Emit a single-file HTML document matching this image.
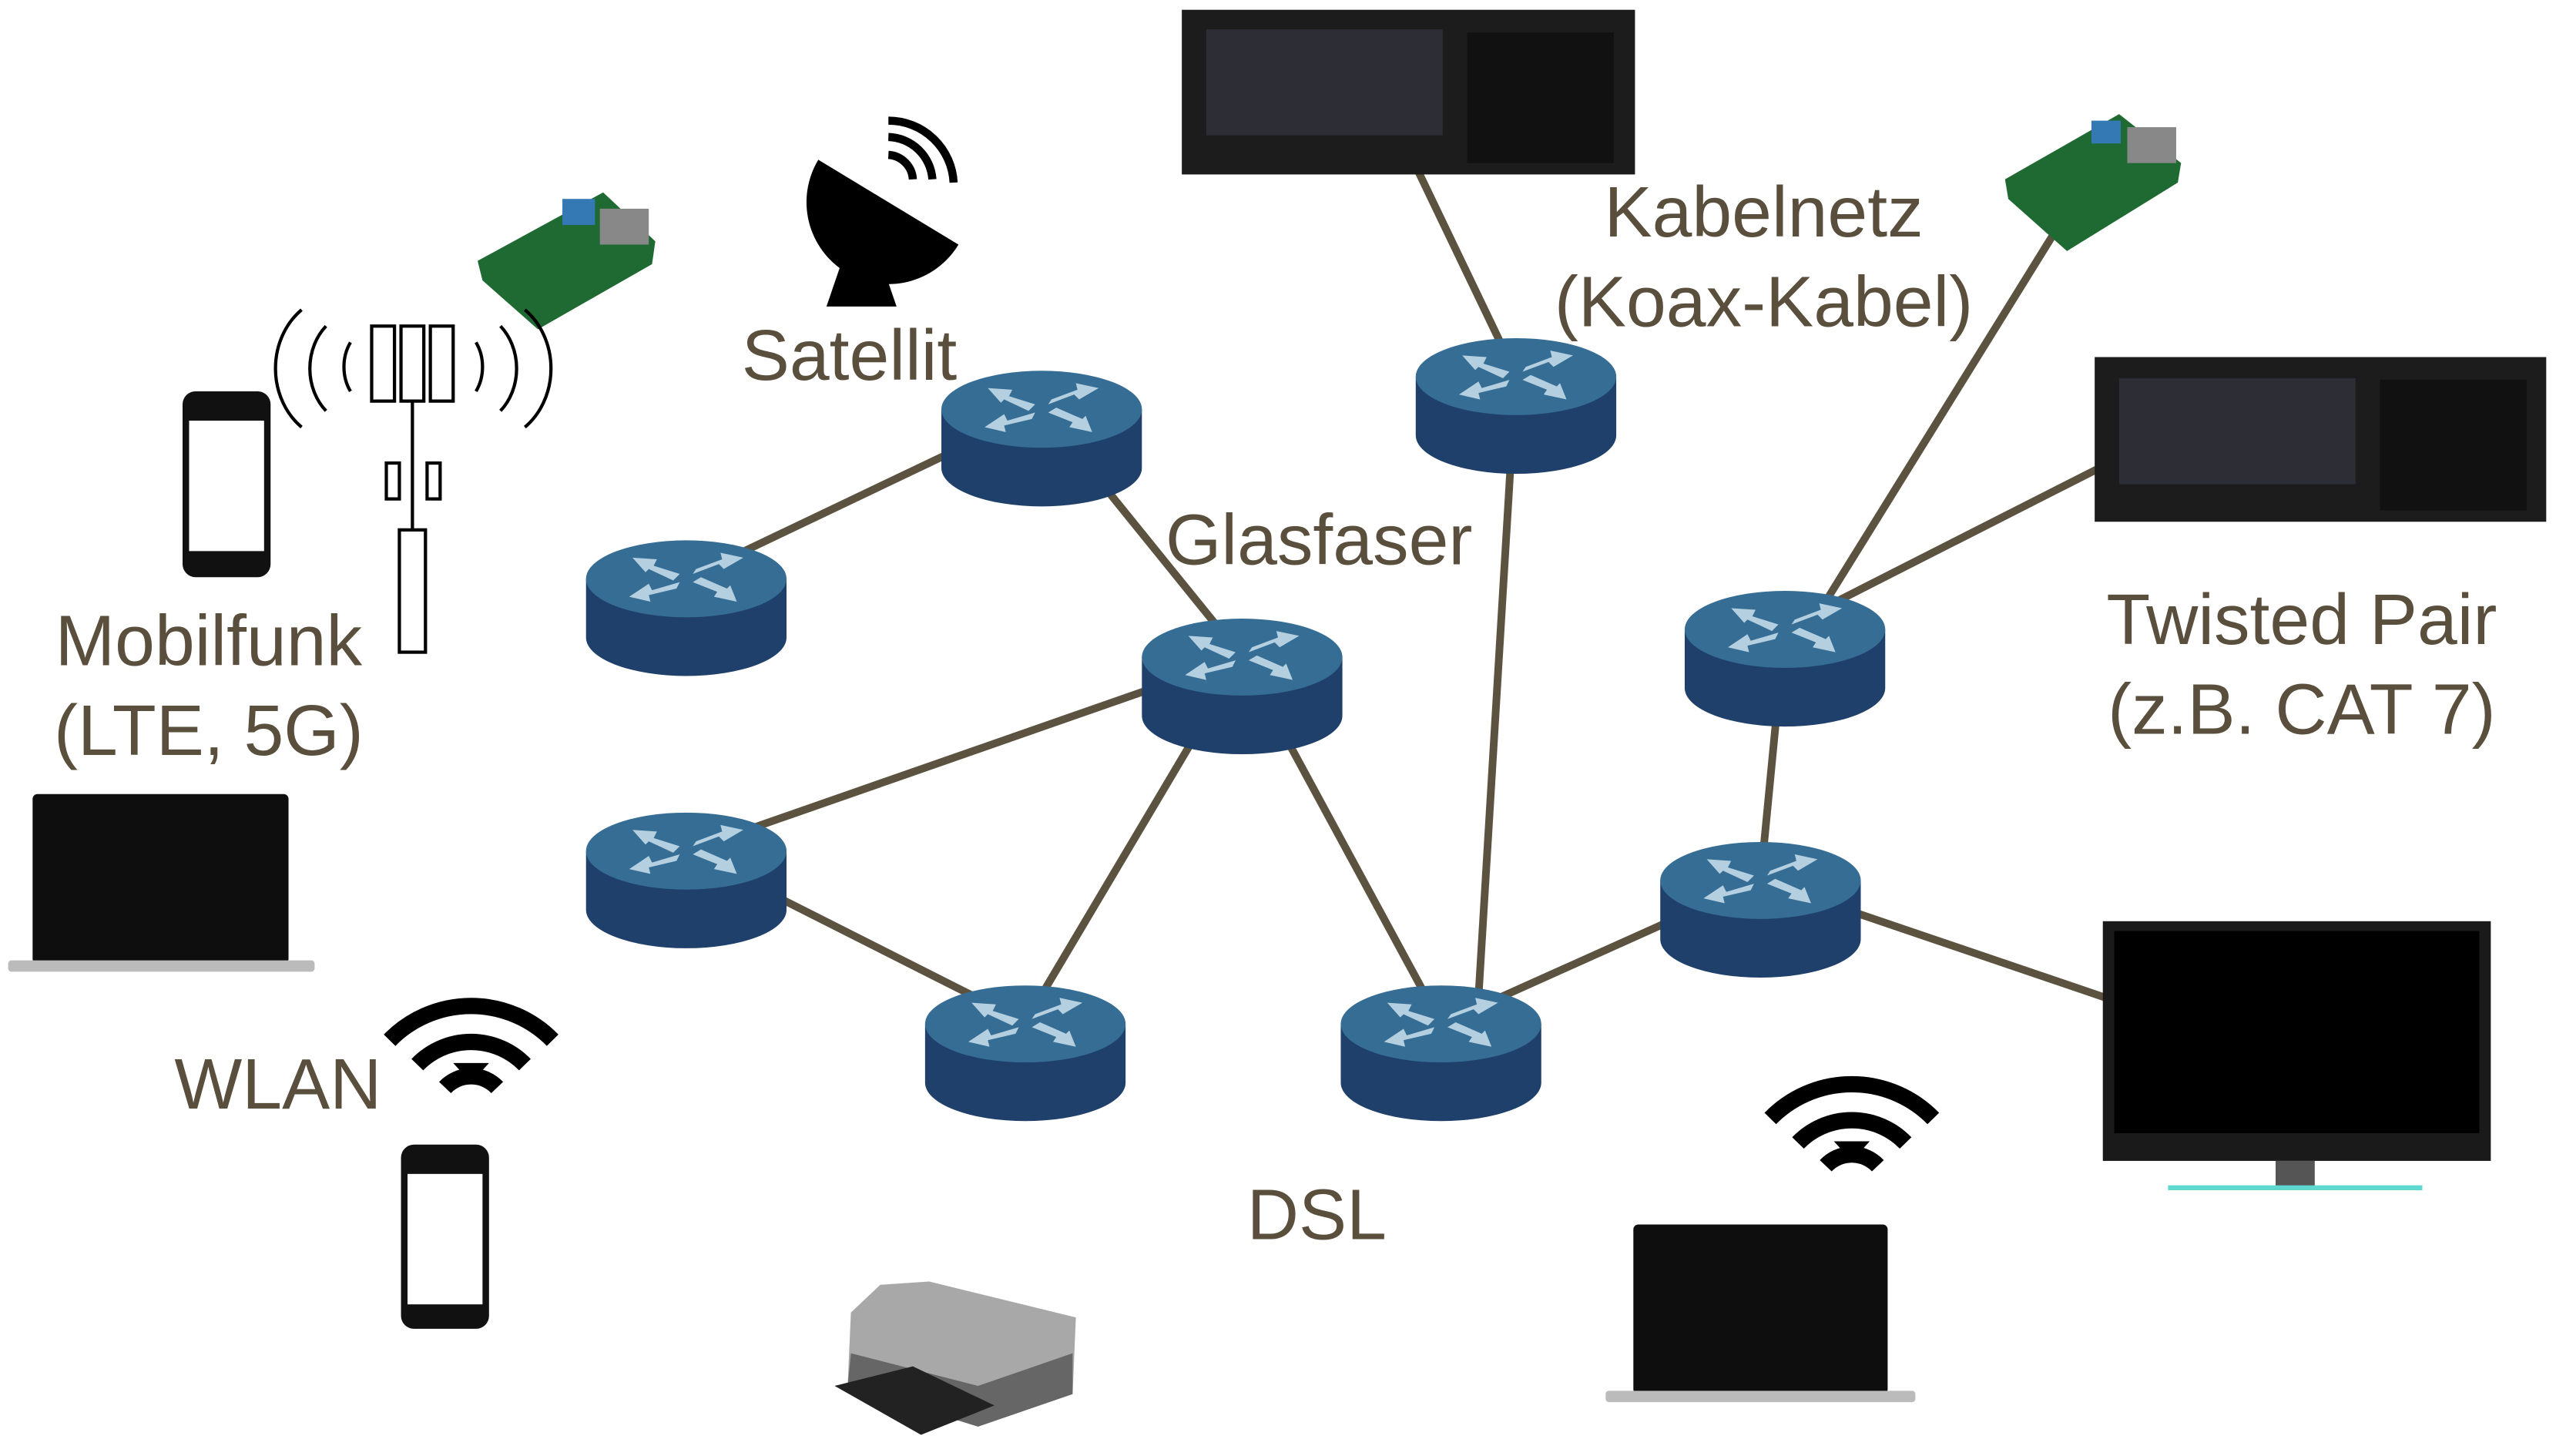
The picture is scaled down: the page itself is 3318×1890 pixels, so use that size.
<!DOCTYPE html>
<html><head><meta charset="utf-8"><style>
html,body{margin:0;padding:0;background:#fff;}
svg{display:block}
text{font-family:"Liberation Sans",sans-serif;fill:#5a4f3d;font-size:44px;}
</style></head><body>
<svg width="3318" height="1890" viewBox="0 0 1568 893" preserveAspectRatio="none" xmlns="http://www.w3.org/2000/svg">
<defs>
<g id="r">
<path d="M-61.5,0 L-61.5,36 A61.5,23.6 0 0 0 61.5,36 L61.5,0 Z" fill="#1f406a"/>
<ellipse cx="0" cy="0" rx="61.5" ry="23.6" fill="#366d94"/>
<g fill="#b4cfe0">
<path d="M-4,-3 L-20,-8 L-18,-12 L-33,-13 L-25,-4 L-23,-6 L-8,1Z"/>
<path d="M4,-3 L20,-9 L23,-6 L35,-13 L21,-16 L22,-12 L6,-6Z"/>
<path d="M-4,2 L-21,7 L-23,3 L-35,11 L-22,14 L-23,10 L-6,6Z"/>
<path d="M4,2 L19,8 L17,11 L31,14 L27,4 L25,6 L9,-1Z"/>
</g>
</g>
<g id="wifi" fill="none" stroke="#000" stroke-width="10">
<path d="M-50,-12 A70,70 0 0 1 50,-12"/>
<path d="M-33,3 A46,46 0 0 1 33,3"/>
<path d="M-16,17 A22,22 0 0 1 16,17"/>
</g>
</defs>
<g stroke="#5c5240" stroke-width="4.7" fill="none">
<line x1="421" y1="355" x2="639" y2="251"/>
<line x1="639" y1="251" x2="762" y2="403"/>
<line x1="762" y1="403" x2="421" y2="522"/>
<line x1="762" y1="403" x2="629" y2="627"/>
<line x1="762" y1="403" x2="884" y2="628"/>
<line x1="421" y1="522" x2="629" y2="627"/>
<line x1="906" y1="628" x2="930" y2="230"/>
<line x1="930" y1="230" x2="870" y2="105"/>
<line x1="884" y1="628" x2="1080" y2="540"/>
<line x1="1080" y1="540" x2="1095" y2="385"/>
<line x1="1110" y1="385" x2="1262" y2="140"/>
<line x1="1095" y1="385" x2="1286" y2="288"/>
<line x1="1080" y1="540" x2="1292" y2="612"/>
</g>
<use href="#r" x="639" y="251"/>
<use href="#r" x="421" y="355"/>
<use href="#r" x="762" y="403"/>
<use href="#r" x="930" y="231"/>
<use href="#r" x="421" y="522"/>
<use href="#r" x="629" y="628"/>
<use href="#r" x="884" y="628"/>
<use href="#r" x="1095" y="386"/>
<use href="#r" x="1080" y="540"/>
<!-- servers -->
<rect x="725" y="6" width="278" height="101" fill="#1c1c1c"/>
<rect x="740" y="18" width="145" height="65" fill="#2d2d36"/>
<rect x="900" y="20" width="90" height="80" fill="#111"/>
<rect x="1285" y="219" width="277" height="101" fill="#1c1c1c"/>
<rect x="1300" y="232" width="145" height="65" fill="#2d2d36"/>
<rect x="1460" y="233" width="90" height="80" fill="#111"/>
<!-- raspberry pis -->
<path d="M293,160 L370,118 L402,148 L400,162 L330,202 L296,172 Z" fill="#1f6a33"/>
<rect x="345" y="122" width="20" height="16" fill="#3478b4"/>
<rect x="368" y="128" width="30" height="22" fill="#888"/>
<path d="M1230,110 L1300,70 L1338,100 L1336,112 L1268,154 L1232,122 Z" fill="#1f6a33"/>
<rect x="1283" y="74" width="18" height="14" fill="#3478b4"/>
<rect x="1305" y="78" width="30" height="22" fill="#888"/>
<!-- satellite dish -->
<path d="M502,98 A45,45 0 0 0 588,150 Z" fill="#000"/>
<path d="M520,150 L507,188 L550,188 L537,150Z" fill="#000"/>
<g fill="none" stroke="#000" stroke-width="5"><path d="M545,95 A16,16 0 0 1 560,110"/><path d="M545,84 A28,28 0 0 1 572,110"/><path d="M545,74 A40,40 0 0 1 585,112"/></g>
<!-- tower -->
<g fill="#fff" stroke="#000" stroke-width="2">
<rect x="245" y="325" width="16" height="75"/>
<line x1="253" y1="246" x2="253" y2="325"/>
<rect x="228" y="200" width="14" height="46"/><rect x="246" y="200" width="14" height="46"/><rect x="264" y="200" width="14" height="46"/>
<rect x="237" y="284" width="8" height="22"/><rect x="262" y="284" width="8" height="22"/>
</g>
<g fill="none" stroke="#000" stroke-width="2">
<path d="M215,210 A20,25 0 0 0 215,240"/><path d="M200,200 A30,35 0 0 0 200,252"/><path d="M185,190 A40,45 0 0 0 185,262"/>
<path d="M292,210 A20,25 0 0 1 292,240"/><path d="M307,200 A30,35 0 0 1 307,252"/><path d="M322,190 A40,45 0 0 1 322,262"/>
</g>
<!-- phones -->
<rect x="112" y="240" width="54" height="114" rx="8" fill="#111"/>
<rect x="116" y="258" width="46" height="80" fill="#fff"/>
<rect x="246" y="702" width="54" height="113" rx="8" fill="#111"/>
<rect x="250" y="720" width="46" height="80" fill="#fff"/>
<!-- laptops -->
<rect x="20" y="487" width="157" height="104" rx="3" fill="#0e0e0e"/>
<rect x="5" y="589" width="188" height="7" rx="2" fill="#bbb"/>
<rect x="1002" y="751" width="156" height="104" rx="3" fill="#0e0e0e"/>
<rect x="985" y="853" width="190" height="7" rx="2" fill="#bbb"/>
<!-- TV -->
<rect x="1290" y="565" width="238" height="147" fill="#1a1a1a"/>
<rect x="1297" y="571" width="224" height="124" fill="#000"/>
<rect x="1396" y="712" width="24" height="16" fill="#555"/>
<rect x="1330" y="727" width="156" height="3" fill="#5ed8d0"/>
<!-- printer -->
<path d="M522,805 L540,788 L570,786 L660,808 L658,855 L600,875 L520,850 Z" fill="#a8a8a8"/>
<path d="M522,830 L600,850 L658,830 L658,855 L600,875 L520,850Z" fill="#666"/>
<path d="M512,850 L560,838 L610,862 L565,880 Z" fill="#222"/>
<!-- wifi -->
<use href="#wifi" x="289" y="650"/>
<path d="M278,652 L300,652 L289,664Z" fill="#000"/>
<use href="#wifi" x="1136" y="698"/>
<path d="M1125,700 L1147,700 L1136,712Z" fill="#000"/>
<!-- labels -->
<text x="455" y="233">Satellit</text>
<text x="1082" y="145" text-anchor="middle">Kabelnetz</text>
<text x="1082" y="200" text-anchor="middle">(Koax-Kabel)</text>
<text x="715" y="346">Glasfaser</text>
<text x="128" y="408" text-anchor="middle">Mobilfunk</text>
<text x="128" y="463" text-anchor="middle">(LTE, 5G)</text>
<text x="1412" y="395" text-anchor="middle">Twisted Pair</text>
<text x="1412" y="450" text-anchor="middle">(z.B. CAT 7)</text>
<text x="107" y="680">WLAN</text>
<text x="765" y="760">DSL</text>
</svg>
</body></html>
